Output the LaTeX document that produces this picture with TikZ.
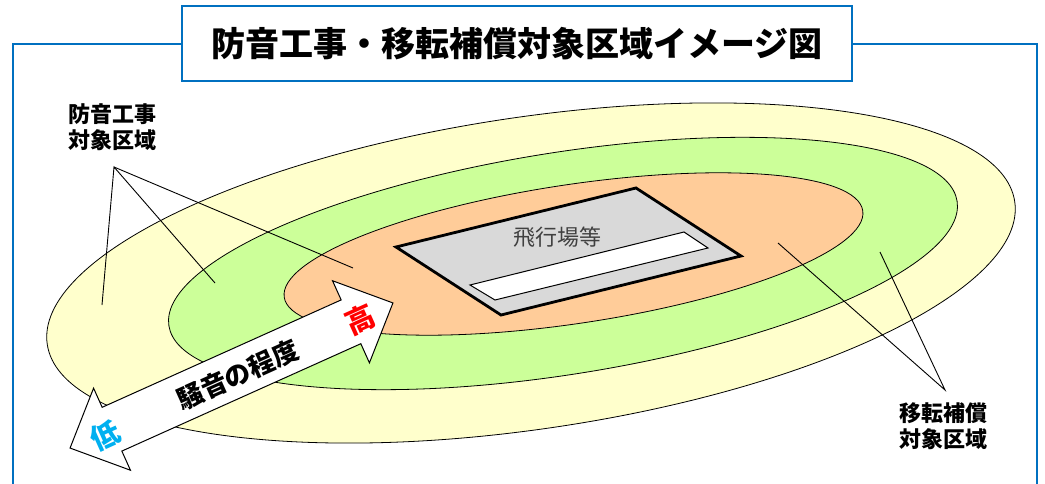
\documentclass[tikz,border=0pt]{standalone}
\usepackage{fontspec}
\newfontfamily\jp{Noto Sans CJK JP}
\definecolor{frameblue}{RGB}{0,112,192}
\definecolor{zoneY}{RGB}{255,255,204}
\definecolor{zoneG}{RGB}{204,255,153}
\definecolor{zoneO}{RGB}{255,204,153}
\definecolor{fieldgrey}{RGB}{217,217,217}
\definecolor{textgrey}{RGB}{64,64,64}
\definecolor{lowcyan}{RGB}{0,176,240}
\begin{document}
\begin{tikzpicture}[x=1pt,y=1pt,
  zone/.style={draw=black,line width=0.8pt},
  leader/.style={draw=black,line width=0.9pt},
  lbl/.style={font=\jp\bfseries\fontsize{22}{26}\selectfont,align=center,inner sep=0pt},
  arrtxt/.style={font=\jp\bfseries\fontsize{26}{26}\selectfont,inner sep=0pt}]
\useasboundingbox (0,0) rectangle (1045,483);
% frame
\draw[frameblue,line width=2.2pt] (13,-2) -- (13,439) -- (1037,439) -- (1037,-2);
\node[draw=frameblue,line width=2.2pt,fill=white,minimum width=670pt,minimum height=75pt,inner sep=0pt,
  font=\jp\bfseries\fontsize{34}{34}\selectfont] (title) at (517,439.5) {防音工事・移転補償対象区域イメージ図};
% zones
\fill[zone,fill=zoneY] (531,210) ellipse[x radius=489,y radius=156,rotate=8.4];
\fill[zone,fill=zoneG] (563,219.5) ellipse[x radius=399,y radius=111,rotate=9];
\fill[zone,fill=zoneO] (573.5,229) ellipse[x radius=292.5,y radius=69.5,rotate=8.5];
% airfield
\draw[fill=fieldgrey,line width=2.8pt,line join=miter] (396,236) -- (636,295) -- (741,227) -- (501,168) -- cycle;
\draw[fill=white,line width=1pt] (470,198) -- (684,251) -- (708,235) -- (495,183) -- cycle;
\node[font=\jp\fontsize{22}{22}\selectfont,text=textgrey,inner sep=0pt] (field) at (557,246) {飛行場等};
% labels and leaders
\node[lbl] (lab1) at (112,356) {防音工事\\対象区域};
\node[lbl] (lab2) at (943,57) {移転補償\\対象区域};
\coordinate (a1) at (114,316);
\coordinate (p1) at (102,178);
\coordinate (p2) at (215,200);
\coordinate (p3) at (353,215);
\draw[leader] (p1) -- (a1) -- (p2);
\draw[leader] (a1) -- (p3);
\coordinate (a2) at (945,93);
\coordinate (q1) at (778,240);
\coordinate (q2) at (880,231);
\draw[leader] (q1) -- (a2) -- (q2);
% noise arrow
\begin{scope}[shift={(231.5,107.5)},rotate=24.2]
\draw[fill=white,line width=1pt,line join=miter] (177,0) -- (131,45) -- (131,24) -- (-131,24) -- (-131,45) -- (-177,0)
  -- (-131,-45) -- (-131,-24) -- (131,-24) -- (131,-45) -- cycle;
\node[arrtxt,rotate=24.2] (noise) at (6,-2) {騒音の程度};
\node[arrtxt,text=red,font=\jp\bfseries\fontsize{29}{29}\selectfont,rotate=24.2] (high) at (140,-2) {高};
\node[arrtxt,text=lowcyan,font=\jp\bfseries\fontsize{29}{29}\selectfont,rotate=24.2] (low) at (-140,-3) {低};
\end{scope}
\end{tikzpicture}
\end{document}
